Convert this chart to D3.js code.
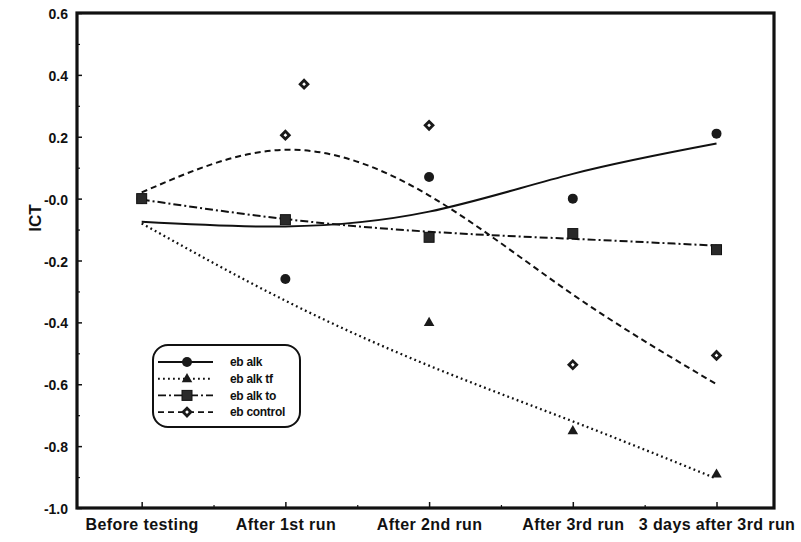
<!DOCTYPE html>
<html>
<head>
<meta charset="utf-8">
<script src="https://cdn.jsdelivr.net/npm/d3@7"></script>
<style>
    body { margin: 0; background: #fff; }
    svg { display: block; }
    text { font-family: "Liberation Sans", Arial, sans-serif; font-weight: bold; fill: #111; }
</style>
</head>
<body>
<svg id="chart" width="801" height="542"></svg>
<script>
// categories on the x axis
var stages = ["Before testing", "After 1st run", "After 2nd run", "After 3rd run", "3 days after 3rd run"];
var yTicks = [0.6, 0.4, 0.2, 0.0, -0.2, -0.4, -0.6, -0.8, -1.0];
var yTickLabels = ["0.6", "0.4", "0.2", "-0.0", "-0.2", "-0.4", "-0.6", "-0.8", "-1.0"];

// measured points (null = not visible)
var ebAlk = [0.0, -0.26, 0.07, 0.0, 0.21];
var ebAlkTf = [null, null, -0.40, -0.75, -0.89];
var ebAlkTo = [0.0, -0.068, -0.125, -0.113, -0.165];
var ebControl = [null, 0.205, 0.237, -0.537, -0.507];
// one control point sits a little right of its stage
var ebControlExtraX = [1.13];
var ebControlExtraY = [0.37];

// fitted curves, read at each stage
var fitAlk = [-0.075, -0.09, -0.042, 0.08, 0.178];
var fitAlkTf = [-0.08, -0.33, -0.54, -0.72, -0.905];
var fitAlkTo = [-0.003, -0.066, -0.107, -0.13, -0.152];
var fitControl = [0.02, 0.158, 0.01, -0.31, -0.6];

var seriesNames = ["eb alk", "eb alk tf", "eb alk to", "eb control"];

var svg = d3.select("#chart");
var plotLeft = 77, plotRight = 774, plotTop = 13, plotBottom = 508;

var x = d3.scaleLinear().domain([-0.45, 4.4]).range([plotLeft, plotRight]);
var y = d3.scaleLinear().domain([-1.0, 0.6]).range([plotBottom, plotTop]);

var series = [
    { name: seriesNames[0], pts: ebAlk, fit: fitAlk, dash: null, marker: "circle" },
    { name: seriesNames[1], pts: ebAlkTf, fit: fitAlkTf, dash: "1.8,3.2", marker: "triangle" },
    { name: seriesNames[2], pts: ebAlkTo, fit: fitAlkTo, dash: "8,3,2,3", marker: "square" },
    { name: seriesNames[3], pts: ebControl, fit: fitControl, dash: "6,4", marker: "diamond" }
];

function drawMarker(g, type, cx, cy) {
    if (type === "circle") {
        g.append("circle").attr("cx", cx).attr("cy", cy).attr("r", 5).attr("fill", "#1a1a1a");
    } else if (type === "square") {
        g.append("rect").attr("x", cx - 5).attr("y", cy - 5).attr("width", 10).attr("height", 10)
            .attr("fill", "#2a2a2a").attr("stroke", "#111").attr("stroke-width", 1);
    } else if (type === "triangle") {
        g.append("path").attr("d", d3.symbol().type(d3.symbolTriangle).size(48)())
            .attr("transform", "translate(" + cx + "," + (cy + 0.5) + ")").attr("fill", "#1a1a1a");
    } else {
        // small square turned 45 degrees, thick outline
        g.append("path").attr("d", d3.symbol().type(d3.symbolSquare).size(30)())
            .attr("transform", "translate(" + cx + "," + cy + ") rotate(45)")
            .attr("fill", "#fff").attr("stroke", "#1a1a1a").attr("stroke-width", 2.8);
    }
}

// fitted lines
var line = d3.line()
    .x(function (d, i) { return x(i); })
    .y(function (d) { return y(d); })
    .curve(d3.curveNatural);

series.forEach(function (s) {
    svg.append("path").datum(s.fit).attr("d", line)
        .attr("fill", "none").attr("stroke", "#111").attr("stroke-width", s.marker === "triangle" ? 2.3 : 2)
        .attr("stroke-dasharray", s.dash);
});

// markers
var marks = svg.append("g");
series.forEach(function (s) {
    s.pts.forEach(function (v, i) {
        if (v === null) return;
        drawMarker(marks, s.marker, x(i), y(v));
    });
});
ebControlExtraX.forEach(function (xv, i) {
    drawMarker(marks, "diamond", x(xv), y(ebControlExtraY[i]));
});

// y axis, ticks inward
var yAxis = d3.axisLeft(y).tickValues(yTicks).tickSizeInner(-5).tickSizeOuter(0).tickPadding(9)
    .tickFormat(function (d, i) { return yTickLabels[i]; });
var gy = svg.append("g").attr("transform", "translate(" + plotLeft + ",0)").call(yAxis);
gy.select(".domain").remove();
gy.selectAll("line").attr("stroke", "#111").attr("stroke-width", 1.5);
gy.selectAll("text").style("font-size", "14px").attr("dy", "0.4em");

var yMinor = d3.axisLeft(y).tickValues(d3.range(-0.9, 0.6, 0.2)).tickSizeInner(-3).tickSizeOuter(0).tickFormat("");
var gym = svg.append("g").attr("transform", "translate(" + plotLeft + ",0)").call(yMinor);
gym.select(".domain").remove();
gym.selectAll("line").attr("stroke", "#111").attr("stroke-width", 1.2);

// x axis, ticks inward
var xAxis = d3.axisBottom(x).tickValues(d3.range(0, stages.length)).tickSizeInner(-6).tickSizeOuter(0).tickPadding(11)
    .tickFormat(function (d) { return stages[d]; });
var gx = svg.append("g").attr("transform", "translate(0," + plotBottom + ")").call(xAxis);
gx.select(".domain").remove();
gx.selectAll("line").attr("stroke", "#111").attr("stroke-width", 1.5);
gx.selectAll("text").style("font-size", "16px").style("letter-spacing", "0.4px").attr("dy", "0.71em");

var xMinor = d3.axisBottom(x).tickValues([0.5, 1.5, 2.5, 3.5]).tickSizeInner(-3).tickSizeOuter(0).tickFormat("");
var gxm = svg.append("g").attr("transform", "translate(0," + plotBottom + ")").call(xMinor);
gxm.select(".domain").remove();
gxm.selectAll("line").attr("stroke", "#111").attr("stroke-width", 1.2);

// frame
svg.append("rect").attr("x", plotLeft).attr("y", plotTop).attr("width", plotRight - plotLeft).attr("height", plotBottom - plotTop)
    .attr("fill", "none").attr("stroke", "#111").attr("stroke-width", 3.2);

// y label
svg.append("text").attr("transform", "translate(41,218) rotate(-90)")
    .attr("text-anchor", "middle").style("font-size", "17px").text("ICT");

// legend
var lg = svg.append("g").attr("transform", "translate(153,345)");
lg.append("rect").attr("width", 147).attr("height", 82).attr("rx", 15)
    .attr("fill", "#fff").attr("stroke", "#111").attr("stroke-width", 2);
series.forEach(function (s, i) {
    var ly = 17 + i * 16.7;
    lg.append("line").attr("x1", 5).attr("x2", 60).attr("y1", ly).attr("y2", ly)
        .attr("stroke", "#111").attr("stroke-width", 1.9).attr("stroke-dasharray", s.dash);
    drawMarker(lg, s.marker, 34, ly);
    lg.append("text").attr("x", 77).attr("y", ly).attr("dy", "0.35em")
        .style("font-size", "12px").style("letter-spacing", "-0.3px").text(s.name);
});
</script>
</body>
</html>
